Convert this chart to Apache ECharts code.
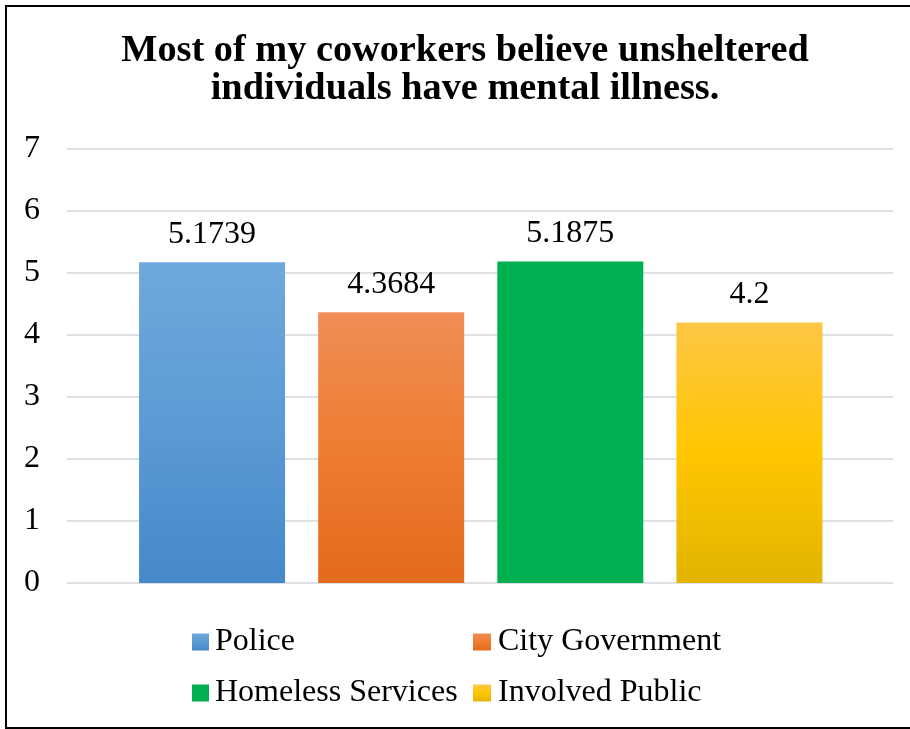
<!DOCTYPE html>
<html>
<head>
<meta charset="utf-8">
<script src="https://cdn.jsdelivr.net/npm/echarts@6/dist/echarts.min.js"></script>
<style>
  html, body { margin: 0; padding: 0; background: #fff; }
  #chart { width: 910px; height: 729px; }
</style>
</head>
<body>
<div id="chart"></div>
<script>
// Survey groups and their mean agreement scores
const groups = ['Police', 'City Government', 'Homeless Services', 'Involved Public'];
const scores = [5.1739, 4.3684, 5.1875, 4.2];
const yTicks = { min: 0, max: 7, step: 1 };
const titleText = 'Most of my coworkers believe unsheltered\nindividuals have mental illness.';

const FONT = '"Liberation Serif", "Times New Roman", serif';

function vgrad(top, mid, bottom) {
  return new echarts.graphic.LinearGradient(0, 0, 0, 1, [
    { offset: 0, color: top },
    { offset: 0.5, color: mid },
    { offset: 1, color: bottom }
  ]);
}

const fills = [
  vgrad('#6fa8dc', '#5b9bd5', '#4589ca'),
  vgrad('#f18d56', '#ed7d31', '#e46a1c'),
  '#00b050',
  vgrad('#fec646', '#ffc600', '#e2b400')
];

// One series per group so each gets its own legend entry; all share one stack slot
const series = groups.map((name, i) => ({
  name: name,
  type: 'bar',
  stack: 'one',
  xAxisIndex: 1,
  yAxisIndex: 1,
  barWidth: 146,
  data: groups.map((g, j) => (j === i ? scores[i] : null)),
  itemStyle: { color: fills[i] },
  label: {
    show: true,
    position: 'top',
    distance: 12,
    color: '#000',
    fontFamily: FONT,
    fontSize: 32
  }
}));

const chart = echarts.init(document.getElementById('chart'), null, { renderer: 'canvas' });

const legendText = { fontFamily: FONT, fontSize: 32, lineHeight: 32, color: '#000' };

chart.setOption({
  backgroundColor: '#fff',
  animation: false,
  title: {
    text: titleText,
    left: 465,
    textAlign: 'center',
    top: 32,
    padding: 0,
    textStyle: {
      fontFamily: FONT,
      fontWeight: 'bold',
      fontSize: 38.3,
      lineHeight: 38,
      color: '#000'
    }
  },
  legend: [
    {
      data: [groups[0], groups[2]],
      orient: 'vertical',
      left: 192,
      top: 626,
      padding: 0,
      itemGap: 19,
      itemWidth: 17,
      itemHeight: 17,
      icon: 'rect',
      textStyle: Object.assign({ padding: [0, 0, 0, 1] }, legendText)
    },
    {
      data: [groups[1], groups[3]],
      orient: 'vertical',
      left: 473,
      top: 626,
      padding: 0,
      itemGap: 19,
      itemWidth: 18,
      itemHeight: 17,
      icon: 'rect',
      textStyle: Object.assign({ padding: [0, 0, 0, 2] }, legendText)
    }
  ],
  grid: [
    { left: 67, right: 17, top: 149, height: 434 },
    { left: 122.5, width: 716.5, top: 149, height: 434 }
  ],
  xAxis: [
    { type: 'category', gridIndex: 0, data: groups, show: false },
    {
      type: 'category', gridIndex: 1, data: groups,
      axisLine: { show: false }, axisTick: { show: false }, axisLabel: { show: false }
    }
  ],
  yAxis: [
    {
      type: 'value', gridIndex: 0,
      min: yTicks.min, max: yTicks.max, interval: yTicks.step,
      axisLine: { show: false }, axisTick: { show: false },
      axisLabel: { margin: 27, color: '#000', fontFamily: FONT, fontSize: 32 },
      splitLine: { lineStyle: { color: '#dde1e6', width: 2 } }
    },
    {
      type: 'value', gridIndex: 1,
      min: yTicks.min, max: yTicks.max, interval: yTicks.step,
      show: false, splitLine: { show: false }
    }
  ],
  graphic: [
    {
      type: 'rect',
      silent: true,
      z: 100,
      shape: { x: 6, y: 6, width: 920, height: 722 },
      style: { fill: 'none', stroke: '#000', lineWidth: 2 }
    }
  ],
  series: series
});
</script>
</body>
</html>
